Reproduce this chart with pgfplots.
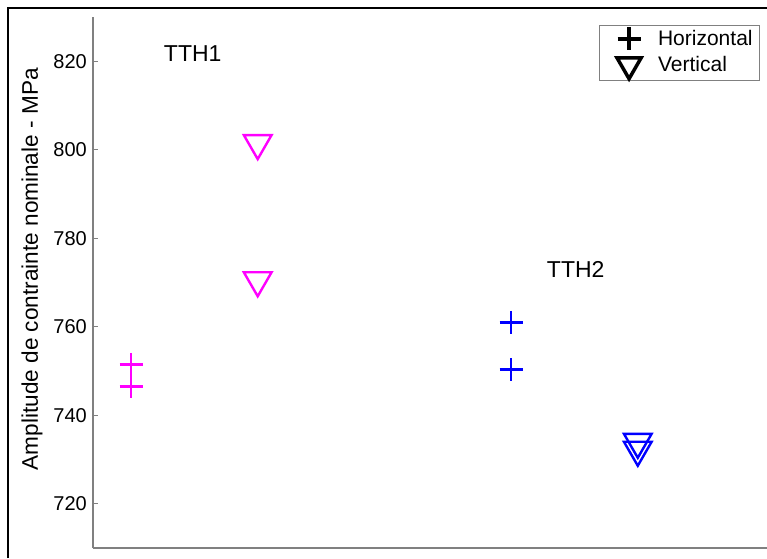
\documentclass[border=0pt]{standalone}
\usepackage{pgfplots}
\pgfplotsset{compat=1.18}
\usepackage{fontspec}
\setmainfont{Liberation Sans}
\definecolor{mag}{RGB}{255,0,255}
\definecolor{blu}{RGB}{0,0,255}

\begin{document}
\begin{tikzpicture}
\useasboundingbox (0pt,0pt) rectangle (767pt,558pt);
% outer frame (top and left edges visible)
\draw[black, line width=2pt] (8pt,0pt) -- (8pt,550pt) -- (770pt,550pt);

\begin{axis}[
    at={(93pt,10pt)}, anchor=south west,
    scale only axis,
    width=674pt, height=531pt,
    xmin=0.7, xmax=6.02,
    ymin=710, ymax=830,
    axis x line*=bottom, axis y line*=left,
    axis line style={gray, line width=1.2pt},
    xtick=\empty,
    ytick={720,740,...,820},
    tick align=inside,
    major tick length=5pt,
    tick style={gray, line width=0.8pt},
    /pgf/number format/assume math mode=true,
    yticklabel style={font=\fontsize{20}{24}\selectfont, inner xsep=0pt, xshift=-6pt},
    ylabel={Amplitude de contrainte nominale - MPa},
    every axis y label/.style={at={(axis description cs:-0.0905,0.525)}, rotate=90, anchor=center,
        font=\fontsize{22.6}{27}\selectfont},
    legend style={at={(1,1)}, anchor=north east, xshift=-7pt, yshift=-8pt,
        draw=gray, line width=0.8pt, font=\fontsize{21}{22}\selectfont,
        inner xsep=5pt, inner ysep=2pt, row sep=4pt, cells={anchor=west}},
    legend image code/.code={
        \path[draw=none] (0pt,0pt) -- (52pt,0pt);
        \draw[#1] plot coordinates {(25pt,0pt)};
    },
    legend cell align=left,
    clip=false,
]
\addlegendimage{only marks, black, mark=+, mark size=11.5pt, mark options={line width=3.5pt}}
\addlegendimage{only marks, black, mark=triangle, mark size=14pt, mark options={rotate=180, line width=3.5pt}}
\legend{Horizontal, Vertical}

% TTH1
\addplot[forget plot, only marks, color=mag, mark=+, mark size=11.5pt, mark options={line width=2.4pt}]
  coordinates {(1,751.5) (1,746.5)};
\addplot[forget plot, only marks, color=mag, mark=triangle, mark size=16pt, mark options={rotate=180, line width=2.4pt}]
  coordinates {(2,801.5) (2,770.5)};
% TTH2
\addplot[forget plot, only marks, color=blu, mark=+, mark size=11.5pt, mark options={line width=2.4pt}]
  coordinates {(4,761) (4,750.3)};
\addplot[forget plot, only marks, color=blu, mark=triangle, mark size=16pt, mark options={rotate=180, line width=2.4pt}]
  coordinates {(5,734) (5,732.2)};

\node[font=\fontsize{23}{27}\selectfont] at (axis cs:1.487,821.8) {TTH1};
\node[font=\fontsize{23}{27}\selectfont] at (axis cs:4.51,772.9) {TTH2};
\end{axis}
\end{tikzpicture}
\end{document}
